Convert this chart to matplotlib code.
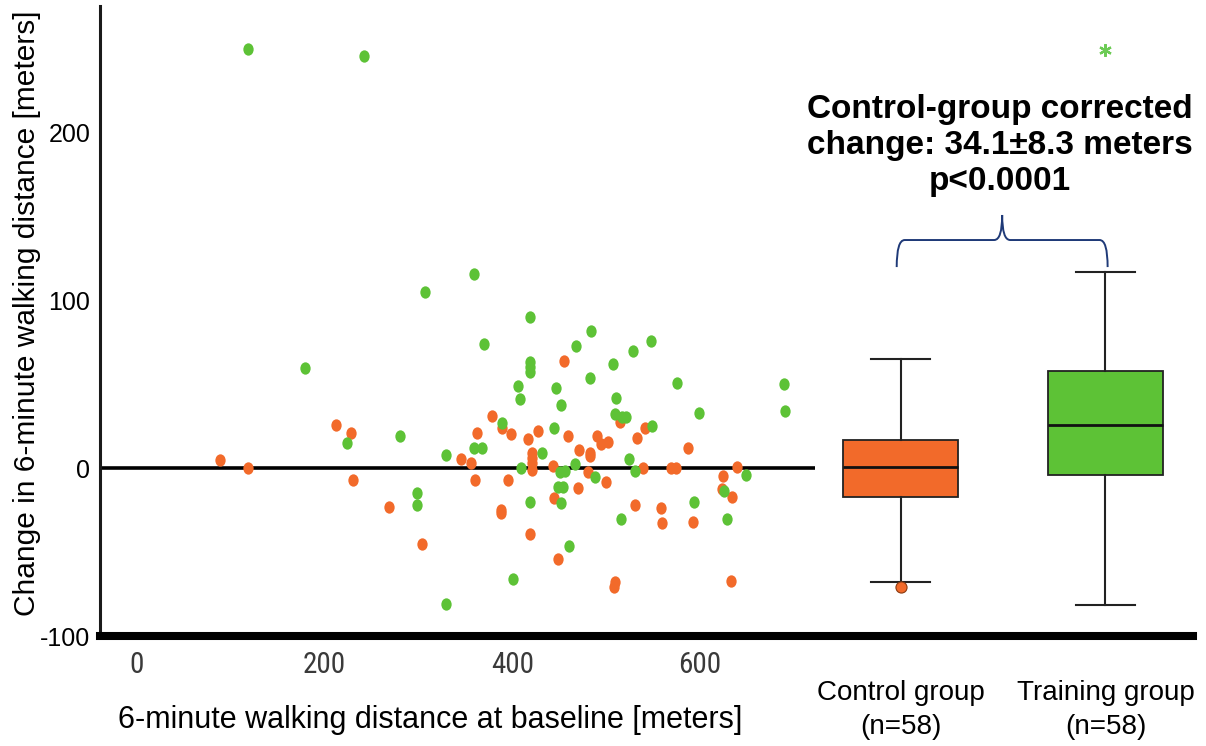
import matplotlib
matplotlib.use('Agg')
import matplotlib.pyplot as plt
from matplotlib import font_manager
from matplotlib.markers import MarkerStyle
from matplotlib.transforms import Affine2D, blended_transform_factory
from matplotlib.path import Path
from matplotlib.patches import PathPatch

# ---------------- data ----------------
control_x = [89, 119, 212, 228, 231, 269, 304, 346, 356, 360, 362, 379, 388, 388, 389,
             455, 399, 427, 417, 459, 515, 541, 533, 490, 495, 502, 483, 483, 471,
             421, 421, 421, 421, 443, 587, 539, 569, 574, 639, 624, 396, 481, 500,
             470, 623, 634, 444, 531, 558, 559, 593, 419, 449, 509, 508, 633]
control_y = [4.9, 0, 25.8, 20.8, -7.3, -23.2, -45.2, 5.2, 3.2, -7.3, 20.8, 30.8, -25, -27, 23.6,
             63.7, 20, 22, 17, 19, 27.4, 24, 18, 19, 14.1, 15.7, 7.1, 8.7, 10.7,
             9.1, 5.8, 2.8, -1.2, 1.4, 12.1, -0.2, -0.2, -0.2, 0.4, -4.8, -7.1, -2.2, -8.1,
             -12.1, -12.7, -17, -18, -22, -24, -33, -32, -39.3, -54, -67.7, -70.6, -67]

training_x = [119, 242, 307, 359, 370, 179, 224, 281, 329, 359, 368, 389, 299, 299, 330,
              419, 484, 468, 548, 529, 419, 419, 419, 507, 483, 406, 447, 575, 689, 511,
              408, 452, 599, 691, 509, 517, 521, 445, 549, 432, 524, 409, 467, 451, 456,
              531, 649, 488, 449, 454, 626, 419, 452, 594, 516, 629, 461, 401]
training_y = [249.4, 245, 104.6, 115.7, 73.8, 59.7, 14.7, 18.9, 7.7, 11.9, 11.9, 26.6, -15, -22.2, -81,
              89.7, 81.7, 72.8, 75.8, 69.6, 63, 60, 57, 61.9, 53.8, 48.8, 47.8, 50.8, 49.8, 41.7,
              40.9, 37.7, 32.7, 33.9, 32, 30.5, 30.5, 24, 24.8, 8.9, 5.1, -0.2, 2.4, -2.2, -1.6,
              -1.6, -4.2, -5.2, -11.1, -11.1, -13.7, -20, -21, -20, -30.2, -30.2, -46.2, -66]

group_labels = ["Control group\n(n=58)", "Training group\n(n=58)"]
box_positions = [813.5, 1031.7]
control_stats = dict(whislo=-67.7, q1=-17.0, med=0.5, q3=16.7, whishi=65.0, fliers=[-71.0])
training_stats = dict(whislo=-81.5, q1=-4.0, med=25.8, q3=58.0, whishi=116.7, fliers=[249.0])
x_ticks = [0, 200, 400, 600]
y_ticks = [-100, 0, 100, 200]
annotation_text = "Control-group corrected\nchange: 34.1±8.3 meters\np<0.0001"
xlabel_text = "6-minute walking distance at baseline [meters]"
ylabel_text = "Change in 6-minute walking distance [meters]"

# ---------------- style ----------------
ORANGE = '#F26A2A'
GREEN = '#5DC236'
NAVY = '#1F3A78'

fonts = font_manager.fontManager.ttflist
available = {f.name for f in fonts}
MAIN = 'Liberation Sans' if 'Liberation Sans' in available else 'DejaVu Sans'

# look for a condensed/narrow face for the numeric x tick labels
narrow_family, narrow_stretch = MAIN, 'normal'
for pref in ['Liberation Sans Narrow', 'Arial Narrow', 'Roboto Condensed',
             'Open Sans Condensed', 'Noto Sans Condensed', 'DejaVu Sans Condensed']:
    if pref in available:
        narrow_family = pref
        break
else:
    for f in fonts:
        st = str(f.stretch).lower()
        if (st in ('condensed', 'semi-condensed', 'extra-condensed') or
                (isinstance(f.stretch, int) and f.stretch < 500)) and f.style == 'normal' \
                and f.weight in (400, 'normal', 'regular'):
            if f.name in ('Roboto', 'Noto Sans', 'Open Sans', 'DejaVu Sans', 'Liberation Sans', 'Lato', 'Inter'):
                narrow_family, narrow_stretch = f.name, f.stretch
                break

plt.rcParams['font.family'] = [MAIN, 'DejaVu Sans']

fig = plt.figure(figsize=(12.06, 7.46), dpi=100)
ax = fig.add_axes([100 / 1206, 110 / 746, 1093 / 1206, 630 / 746])
ax.set_xlim(-38.9, 1124.9)
ax.set_ylim(-100, 275)

# zero reference line
ax.hlines(0, -38.9, 722, colors='black', linewidth=2.6, zorder=2)

# scatter
ell = MarkerStyle('o', transform=Affine2D().scale(1.0, 1.2))
ax.scatter(control_x, control_y, s=55, marker=ell, color=ORANGE, linewidths=0, zorder=3)
ax.scatter(training_x, training_y, s=55, marker=ell, color=GREEN, linewidths=0, zorder=3)

# box plots
bp = ax.bxp([control_stats, training_stats], positions=box_positions, widths=122,
            capwidths=62, patch_artist=True, manage_ticks=False,
            boxprops=dict(linewidth=1.3, edgecolor='#222222'),
            medianprops=dict(color='#111111', linewidth=2.0),
            whiskerprops=dict(color='#222222', linewidth=1.5),
            capprops=dict(color='#222222', linewidth=1.5))
for patch, col in zip(bp['boxes'], [ORANGE, GREEN]):
    patch.set_facecolor(col)
bp['fliers'][0].set(marker='o', markersize=8, markerfacecolor=ORANGE,
                    markeredgecolor='#8a3a10', markeredgewidth=0.8, linestyle='none')
bp['fliers'][1].set(marker=(6, 2, 0), markersize=9, markerfacecolor='#7FD46A',
                    markeredgecolor='#6CCB55', markeredgewidth=1.6, linestyle='none')

# curly brace
xl, xr = 809.4, 1034.0
xm = (xl + xr) / 2
yb, yh, yp = 119.6, 135.7, 150.6
dx = 8 / 0.9392
verts = [(xl, yb), (xl, yh), (xl + dx, yh),
         (xm - dx, yh), (xm, yh), (xm, yp),
         (xm, yh), (xm + dx, yh),
         (xr - dx, yh), (xr, yh), (xr, yb)]
codes = [Path.MOVETO, Path.CURVE3, Path.CURVE3,
         Path.LINETO, Path.CURVE3, Path.CURVE3,
         Path.CURVE3, Path.CURVE3,
         Path.LINETO, Path.CURVE3, Path.CURVE3]
ax.add_patch(PathPatch(Path(verts, codes), facecolor='none', edgecolor=NAVY,
                       linewidth=1.4, zorder=4, clip_on=False))

ax.text(xm - 2, 192, annotation_text, ha='center', va='center', multialignment='center',
        fontsize=24, fontweight='bold', color='black', linespacing=1.2)

# spines
for s in ['top', 'right']:
    ax.spines[s].set_visible(False)
ax.spines['left'].set_linewidth(2.2)
ax.spines['left'].set_color('#1a1a1a')
ax.spines['bottom'].set_linewidth(5.8)
ax.spines['bottom'].set_color('black')
ax.spines['bottom'].set_capstyle('projecting')

# ticks
ax.set_xticks(x_ticks)
ax.set_xticklabels([str(v) for v in x_ticks], fontsize=21, family=[narrow_family, 'DejaVu Sans'],
                   fontstretch=narrow_stretch, color='#3a3a3a')
ax.set_yticks(y_ticks)
ax.set_yticklabels([str(v) for v in y_ticks], fontsize=18, color='black')
ax.tick_params(axis='x', length=0, pad=11)
ax.tick_params(axis='y', length=0, pad=7)

# group labels
trans = blended_transform_factory(ax.transData, ax.transAxes)
for pos, lab in zip(box_positions, group_labels):
    ax.text(pos, -0.1175, lab, transform=trans, ha='center', va='center',
            multialignment='center', fontsize=20, linespacing=1.37)

# axis labels
ax.set_xlabel(xlabel_text, fontsize=22)
ax.xaxis.label.set(va='center', ha='center')
ax.xaxis.set_label_coords(0.302, -0.133)
ax.set_ylabel(ylabel_text, fontsize=21.5)
ax.yaxis.label.set(va='center', ha='center', rotation_mode='default')
ax.yaxis.set_label_coords(-0.0668, 0.513)

fig.savefig('out.png', dpi=100)
